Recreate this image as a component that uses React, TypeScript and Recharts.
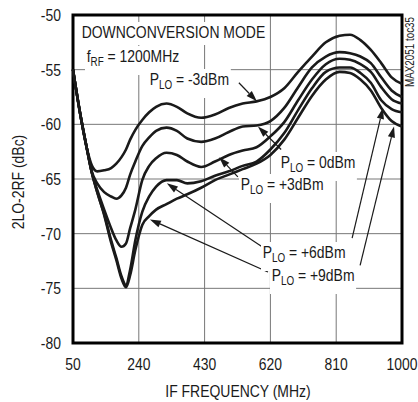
import React from "react";
import {
  LineChart,
  Line,
  XAxis,
  YAxis,
  CartesianGrid,
  ReferenceArea,
  ReferenceLine,
} from "recharts";

const freqs = [
  50, 70, 90, 105, 120, 140, 160, 175, 190, 203, 215, 230, 250, 270, 290, 320,
  350, 380, 420, 460, 500, 540, 580, 620, 660, 700, 740, 780, 820, 850, 880,
  910, 940, 970, 1000,
];

// 2LO-2RF (dBc) for each LO power
const ploM3 = [
  -55.0, -58.9, -62.2, -63.8, -64.3, -64.2, -64.0, -63.6, -63.0, -62.3, -61.4,
  -60.5, -59.6, -58.9, -58.4, -58.1, -58.4, -59.0, -59.4, -59.1, -58.5, -58.1,
  -57.9, -57.5, -56.7, -55.2, -53.8, -52.5, -51.9, -51.8, -52.3, -53.2, -54.4,
  -55.7, -56.3,
];
const plo0 = [
  -55.0, -58.9, -62.2, -64.4, -65.4, -66.2, -66.6, -66.8, -66.5, -65.8, -64.6,
  -63.4, -62.0, -61.2, -60.6, -60.3, -60.6, -61.3, -61.6, -61.3, -60.7, -60.2,
  -60.1, -59.7, -58.5, -56.6, -54.8, -53.8, -53.4, -53.5, -53.8, -54.4, -55.7,
  -56.9, -57.5,
];
const ploP3 = [
  -55.0, -58.9, -62.2, -64.5, -66.0, -67.8, -69.5, -70.6, -71.2, -70.9, -69.5,
  -67.8, -65.1, -63.8, -63.1, -62.6, -62.8, -63.4, -63.9, -63.4, -62.8, -62.4,
  -62.1, -61.1, -59.8, -57.8, -55.9, -54.5, -54.0, -54.1, -54.5, -55.2, -56.6,
  -57.7, -58.1,
];
const ploP6 = [
  -55.0, -58.9, -62.2, -64.5, -66.2, -68.2, -70.6, -72.2, -73.9, -74.7, -73.3,
  -70.6, -68.0, -66.6, -65.7, -65.1, -65.1, -65.4, -65.2, -64.7, -64.3, -63.8,
  -63.4, -62.3, -60.8, -58.7, -56.7, -55.2, -54.8, -54.8, -55.3, -56.2, -57.8,
  -58.6, -58.9,
];
const ploP9 = [
  -55.0, -58.9, -62.2, -64.5, -66.2, -68.3, -70.8, -72.4, -74.1, -74.9, -73.8,
  -71.5, -69.2, -68.4, -67.8, -67.3, -66.8, -66.4, -65.8, -65.1, -64.6, -64.1,
  -63.6, -62.8, -61.4, -59.4, -57.4, -55.9, -55.2, -55.3, -55.9, -56.9, -58.5,
  -59.7, -60.2,
];

const xTicks = [50, 240, 430, 620, 810, 1000];
const yTicks = [-80, -75, -70, -65, -60, -55, -50];

// label arrows: tail freq, tail dBc, tip freq, tip dBc
const arrowSegs = [
  [529, -56.2, 581, -57.9],
  [651, -62.3, 584, -60.2],
  [526, -64.8, 472, -63.0],
  [596, -71.2, 321, -65.4],
  [613, -73.5, 272, -68.7],
  [856, -70.4, 945, -58.5],
  [879, -72.9, 977, -60.2],
];

const data = freqs.map((f, i) => ({
  f,
  m3: ploM3[i],
  p0: plo0[i],
  p3: ploP3[i],
  p6: ploP6[i],
  p9: ploP9[i],
}));

// no narrow font installed: squeeze Liberation Sans like Arial Narrow
const FONT = "'Liberation Sans', Arial, sans-serif";
const SQ = 0.82;
const INK = "#1a1a1a";

const Arrow = (props: any) => {
  const { x1, y1, x2, y2 } = props;
  const dx = x2 - x1;
  const dy = y2 - y1;
  const len = Math.hypot(dx, dy) || 1;
  const ux = dx / len;
  const uy = dy / len;
  const hl = 11;
  const hw = 3.6;
  const bx = x2 - ux * hl;
  const by = y2 - uy * hl;
  const pts = `${x2},${y2} ${bx - uy * hw},${by + ux * hw} ${bx + uy * hw},${by - ux * hw}`;
  return (
    <g>
      <line x1={x1} y1={y1} x2={bx} y2={by} stroke={INK} strokeWidth={1.2} />
      <polygon points={pts} fill={INK} />
    </g>
  );
};

const XTick = ({ x, y, payload }: any) => (
  <text
    transform={`translate(${x},${y}) scale(${SQ},1)`}
    textAnchor="middle"
    dy="0.71em"
    fontSize={17}
    fill={INK}
    fontFamily={FONT}
  >
    {payload.value}
  </text>
);

const YTick = ({ x, y, payload }: any) => (
  <text
    transform={`translate(${x},${y}) scale(${SQ},1)`}
    textAnchor="end"
    dy="0.355em"
    fontSize={17}
    fill={INK}
    fontFamily={FONT}
  >
    {payload.value}
  </text>
);

const Sub = ({ children }: { children: React.ReactNode }) => (
  <span style={{ fontSize: 12, verticalAlign: -4 }}>{children}</span>
);

const Note = ({ left, base, children }: { left: number; base: number; children: React.ReactNode }) => (
  <div
    style={{
      position: "absolute",
      left: left - 2,
      top: base - 14.4 - 2,
      padding: "2px 2px 4px 2px",
      background: "#fff",
      fontSize: 17,
      lineHeight: "17px",
      whiteSpace: "nowrap",
      color: INK,
      transform: `scaleX(${SQ})`,
      transformOrigin: "0 0",
    }}
  >
    {children}
  </div>
);

export default function App() {
  return (
    <div
      style={{
        position: "absolute",
        left: 0,
        top: 0,
        width: 418,
        height: 402,
        background: "#fff",
        fontFamily: FONT,
        overflow: "hidden",
      }}
    >
      <LineChart
        width={418}
        height={402}
        data={data}
        margin={{ top: 15, right: 16, left: 23, bottom: 0 }}
      >
        <CartesianGrid stroke="#777" strokeWidth={1} />
        <XAxis
          type="number"
          dataKey="f"
          domain={[50, 1000]}
          ticks={xTicks}
          height={59}
          axisLine={false}
          tickLine={false}
          tickSize={0}
          tickMargin={15}
          tick={<XTick />}
        />
        <YAxis
          type="number"
          domain={[-80, -50]}
          ticks={yTicks}
          width={50}
          axisLine={false}
          tickLine={false}
          tickSize={0}
          tickMargin={12}
          tick={<YTick />}
        />
        <Line type="monotone" dataKey="m3" stroke={INK} strokeWidth={2.6} dot={false} isAnimationActive={false} />
        <Line type="monotone" dataKey="p0" stroke={INK} strokeWidth={2.6} dot={false} isAnimationActive={false} />
        <Line type="monotone" dataKey="p3" stroke={INK} strokeWidth={2.6} dot={false} isAnimationActive={false} />
        <Line type="monotone" dataKey="p6" stroke={INK} strokeWidth={2.6} dot={false} isAnimationActive={false} />
        <Line type="monotone" dataKey="p9" stroke={INK} strokeWidth={2.6} dot={false} isAnimationActive={false} />
        {arrowSegs.map((s, i) => (
          <ReferenceLine
            key={i}
            segment={[
              { x: s[0], y: s[1] },
              { x: s[2], y: s[3] },
            ]}
            shape={Arrow}
            ifOverflow="visible"
          />
        ))}
        <ReferenceArea
          x1={50}
          x2={1000}
          y1={-80}
          y2={-50}
          fill="none"
          fillOpacity={0}
          stroke="#000"
          strokeWidth={3}
          ifOverflow="visible"
        />
      </LineChart>

      {/* axis titles */}
      <div
        style={{
          position: "absolute",
          left: 237.5,
          top: 397 - 14.4,
          fontSize: 17,
          lineHeight: "17px",
          whiteSpace: "nowrap",
          color: INK,
          transform: `translateX(-50%) scaleX(${SQ})`,
        }}
      >
        IF FREQUENCY (MHz)
      </div>
      <div
        style={{
          position: "absolute",
          left: 18,
          top: 182,
          fontSize: 17,
          lineHeight: "17px",
          whiteSpace: "nowrap",
          color: INK,
          transform: `translate(-50%, -50%) rotate(-90deg) scaleX(${SQ})`,
        }}
      >
        2LO-2RF (dBc)
      </div>

      <Note left={82} base={38}>DOWNCONVERSION MODE</Note>
      <Note left={87} base={62}>
        f<Sub>RF</Sub> = 1200MHz
      </Note>
      <Note left={150} base={85}>
        P<Sub>LO</Sub> = -3dBm
      </Note>
      <Note left={281} base={168}>
        P<Sub>LO</Sub> = 0dBm
      </Note>
      <Note left={241} base={190}>
        P<Sub>LO</Sub> = +3dBm
      </Note>
      <Note left={263} base={258}>
        P<Sub>LO</Sub> = +6dBm
      </Note>
      <Note left={272} base={281}>
        P<Sub>LO</Sub> = +9dBm
      </Note>
      <div
        style={{
          position: "absolute",
          left: 410,
          top: 52,
          fontSize: 12,
          lineHeight: "12px",
          whiteSpace: "nowrap",
          color: INK,
          transform: `translate(-50%, -50%) rotate(-90deg) scaleX(${SQ})`,
        }}
      >
        MAX2051 toc35
      </div>
    </div>
  );
}
